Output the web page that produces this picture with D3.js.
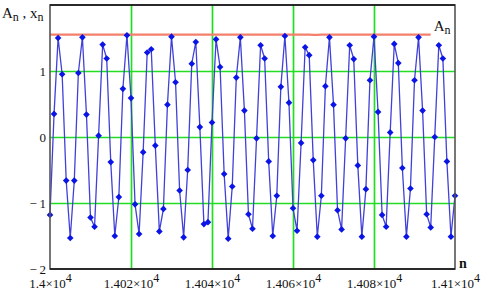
<!DOCTYPE html>
<html>
<head>
<meta charset="utf-8">
<script src="https://cdn.jsdelivr.net/npm/d3@7"></script>
<style>
  body { margin: 0; background: #fff; }
  text { font-family: "Liberation Serif", "DejaVu Serif", serif; }
</style>
</head>
<body>
<div class="Chart"></div>
<script>
// sample index n = nStart + i
const nStart = 14000;

// x_n, one per sample
const xValues = [
  -1.18, 0.35, 1.50, 0.95, -0.66, -1.53, -0.66, 0.97, 1.51, 0.34,
  -1.22, -1.36, 0.02, 1.40, 1.19, -0.38, -1.50, -0.91, 0.73, 1.54,
  0.59, -1.02, -1.47, -0.23, 1.28, 1.33, -0.13, -1.43, -1.09, 0.49,
  1.52, 0.83, -0.81, -1.52, -0.50, 1.11, 1.44, 0.15, -1.32, -1.29,
  0.22, 1.48, 1.06, -0.56, -1.54, -0.75, 0.90, 1.51, 0.40, -1.17,
  -1.39, -0.02, 1.39, 1.19, -0.37, -1.50, -0.89, 0.76, 1.53, 0.52,
  -1.08, -1.42, -0.09, 1.36, 1.24, -0.35, -1.51, -0.89, 0.77, 1.51,
  0.49, -1.11, -1.40, -0.02, 1.39, 1.18, -0.43, -1.51, -0.79, 0.86,
  1.52, 0.38, -1.18, -1.36, 0.07, 1.41, 1.12, -0.47, -1.51, -0.78,
  0.86, 1.51, 0.40, -1.17, -1.37, 0.00, 1.39, 1.19, -0.37, -1.51,
  -0.89
];

// amplitude A_n (red line), n = 14000 .. 14094
const aValues = [
  1.55, 1.55, 1.55, 1.55, 1.55, 1.55, 1.55, 1.55, 1.55, 1.55,
  1.55, 1.55, 1.55, 1.55, 1.55, 1.55, 1.55, 1.55, 1.55, 1.55,
  1.55, 1.55, 1.55, 1.55, 1.55, 1.55, 1.55, 1.55, 1.55, 1.55,
  1.55, 1.55, 1.55, 1.55, 1.55, 1.55, 1.55, 1.55, 1.55, 1.55,
  1.55, 1.55, 1.55, 1.55, 1.55, 1.55, 1.55, 1.55, 1.55, 1.55,
  1.55, 1.55, 1.55, 1.55, 1.55, 1.55, 1.55, 1.55, 1.55, 1.55,
  1.55, 1.55, 1.55, 1.55, 1.55, 1.547, 1.547, 1.55, 1.55, 1.55,
  1.55, 1.55, 1.55, 1.55, 1.55, 1.55, 1.55, 1.55, 1.55, 1.55,
  1.55, 1.55, 1.55, 1.55, 1.55, 1.55, 1.55, 1.55, 1.55, 1.55,
  1.55, 1.55, 1.55, 1.55, 1.55
];

const xTicks = [14000, 14020, 14040, 14060, 14080, 14100];
const xTickMant = ["1.4", "1.402", "1.404", "1.406", "1.408", "1.41"];
const yTicks = [-2, -1, 0, 1];
const xGrid = [14020, 14040, 14060, 14080];
const yGrid = [-1, 0, 1];

const width = 486, height = 295;
const margin = { top: 5, right: 31, bottom: 26, left: 50 };
const w = width - margin.left - margin.right;
const h = height - margin.top - margin.bottom;

const x = d3.scaleLinear().domain([14000, 14100]).range([0, w]);
const y = d3.scaleLinear().domain([-2, 2]).range([h, 0]);

const svg = d3.select(".Chart")
  .append("svg")
  .attr("width", width)
  .attr("height", height);

const g = svg.append("g")
  .attr("transform", `translate(${margin.left},${margin.top})`);

// grid lines
g.append("g")
  .attr("transform", `translate(0,${h})`)
  .call(d3.axisBottom(x).tickValues(xGrid).tickSize(-h).tickFormat(""))
  .call(s => s.select(".domain").remove())
  .selectAll("line")
  .attr("stroke", "#22dd22")
  .attr("stroke-width", 1.7);

g.append("g")
  .call(d3.axisLeft(y).tickValues(yGrid).tickSize(-w).tickFormat(""))
  .call(s => s.select(".domain").remove())
  .selectAll("line")
  .attr("stroke", "#22dd22")
  .attr("stroke-width", 1.7);

// amplitude line
const aData = aValues.map((v, i) => ({ n: nStart + i, v }));
g.append("path")
  .datum(aData)
  .attr("fill", "none")
  .attr("stroke", "#f4806c")
  .attr("stroke-width", 2.2)
  .attr("d", d3.line().x(d => x(d.n)).y(d => y(d.v)));

// signal trace
const xData = xValues.map((v, i) => ({ n: nStart + i, v }));
g.append("path")
  .datum(xData)
  .attr("fill", "none")
  .attr("stroke", "#4141d8")
  .attr("stroke-width", 1.3)
  .attr("d", d3.line().x(d => x(d.n)).y(d => y(d.v)));

const diamond = d3.symbol().type(d3.symbolSquare).size(22);
g.selectAll(".pt")
  .data(xData)
  .enter()
  .append("path")
  .attr("class", "pt")
  .attr("d", diamond)
  .attr("fill", "#0a14e6")
  .attr("transform", d => `translate(${x(d.n)},${y(d.v)}) rotate(45)`);

// frame
g.append("rect")
  .attr("width", w)
  .attr("height", h)
  .attr("fill", "none")
  .attr("stroke", "#555")
  .attr("stroke-width", 1.6);
g.append("line")
  .attr("x1", 0).attr("x2", w).attr("y1", 0).attr("y2", 0)
  .attr("stroke", "#111").attr("stroke-width", 1.4);
g.append("line")
  .attr("x1", 0).attr("x2", w).attr("y1", h).attr("y2", h)
  .attr("stroke", "#111").attr("stroke-width", 1.6);

// Y axis labels
const yAxis = g.append("g")
  .call(d3.axisLeft(y).tickValues(yTicks).tickSize(0).tickPadding(4)
    .tickFormat(d => d < 0 ? "\u2212\u2009" + Math.abs(d) : d));
yAxis.select(".domain").remove();
yAxis.selectAll("text")
  .attr("font-size", 13)
  .attr("fill", "#111")
  .style("font-family", "Liberation Serif");

// X axis labels with superscript exponent
const xAxis = g.append("g")
  .attr("transform", `translate(0,${h})`)
  .call(d3.axisBottom(x).tickValues(xTicks).tickSize(0).tickPadding(10).tickFormat(""));
xAxis.select(".domain").remove();
xAxis.selectAll(".tick text").each(function(d, i) {
  const t = d3.select(this)
    .attr("font-size", 13)
    .attr("fill", "#111")
    .attr("dy", "0.71em")
    .style("font-family", "Liberation Serif");
  t.append("tspan").text(xTickMant[i] + "\u00d710");
  t.append("tspan").attr("dy", "-0.55em").attr("font-size", 12).text("4");
});

// axis titles
const yTitle = svg.append("text")
  .attr("x", 2)
  .attr("y", 18)
  .attr("font-size", 15)
  .attr("fill", "#111");
yTitle.append("tspan").text("A");
yTitle.append("tspan").attr("dy", 3).attr("font-size", 12).text("n");
yTitle.append("tspan").attr("dy", -3).text(" , x");
yTitle.append("tspan").attr("dy", 3).attr("font-size", 12).text("n");

svg.append("text")
  .attr("x", margin.left + w + 4)
  .attr("y", margin.top + h - 1)
  .attr("font-size", 14)
  .attr("font-weight", "bold")
  .attr("fill", "#111")
  .text("n");

// label for the amplitude line
const aLabel = svg.append("text")
  .attr("x", margin.left + x(aData[aData.length - 1].n) + 3)
  .attr("y", margin.top + y(aData[aData.length - 1].v) - 4)
  .attr("font-size", 15)
  .attr("fill", "#111");
aLabel.append("tspan").text("A");
aLabel.append("tspan").attr("dy", 3).attr("font-size", 12).text("n");
</script>
</body>
</html>
